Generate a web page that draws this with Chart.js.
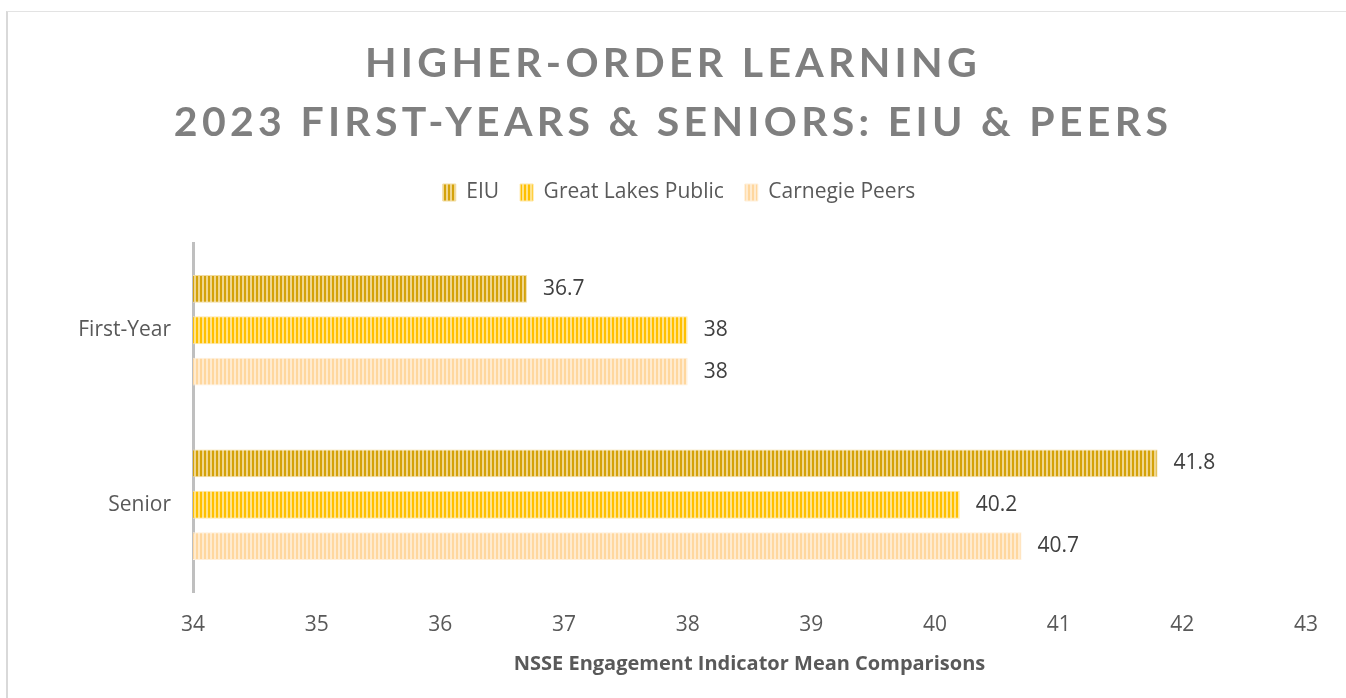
<!DOCTYPE html>
<html>
<head>
<meta charset="utf-8">
<script src="https://cdn.jsdelivr.net/npm/chart.js@4/dist/chart.umd.min.js"></script>
<style>
  html, body { margin: 0; padding: 0; background: #fff; }
  #wrap { position: relative; width: 1346px; height: 698px; overflow: hidden; }
  #frame { position: absolute; left: 6px; top: 11px; width: 1400px; height: 800px;
           border-left: 2px solid #D9D9D9; border-top: 1px solid #E3E3E3; }
  #title { position: absolute; left: 0; top: 32px; width: 1346px; text-align: center;
           font-family: Lato, sans-serif; font-weight: bold; font-size: 41px;
           letter-spacing: 4.3px; color: #7F7F7F; line-height: 59px; }
  /* canvas offset so the legend centres over the whole frame, not the plot */
  canvas { position: absolute; left: 52px; top: 0; }
</style>
</head>
<body>
<div id="wrap">
  <div id="frame"></div>
  <canvas id="chart" width="1294" height="698"></canvas>
  <div id="title">HIGHER-ORDER LEARNING<br>2023 FIRST-YEARS &amp; SENIORS: EIU &amp; PEERS</div>
</div>
<script>
// Chart data
const categories = ['First-Year', 'Senior'];
const seriesNames = ['EIU', 'Great Lakes Public', 'Carnegie Peers'];
const eiu = [36.7, 41.8];
const greatLakes = [38, 40.2];
const carnegie = [38, 40.7];
const xTicks = [34, 35, 36, 37, 38, 39, 40, 41, 42, 43];

const FONT = "'Open Sans', sans-serif";

// Vertical stripe fill, like the Excel pattern fill
function stripes(dark, light) {
    const c = document.createElement('canvas');
    c.width = 4;
    c.height = 4;
    const g = c.getContext('2d');
    g.fillStyle = light;
    g.fillRect(0, 0, 4, 4);
    g.fillStyle = dark;
    g.fillRect(0, 0, 2, 4);
    return g.createPattern(c, 'repeat');
}

const fills = [
    stripes('#D4A20A', '#F0D68E'),
    stripes('#FFC000', '#FFE38C'),
    stripes('#FFD79E', '#FFEBCF')
];
const edges = ['#F2DCA0', '#FFE7A6', '#FFEFD9'];

// Value labels at the end of each bar
const valueLabels = {
    id: 'valueLabels',
    afterDatasetsDraw(chart) {
        const ctx = chart.ctx;
        ctx.save();
        ctx.font = '21px ' + FONT;
        ctx.fillStyle = '#404040';
        ctx.textAlign = 'left';
        ctx.textBaseline = 'middle';
        chart.data.datasets.forEach((ds, i) => {
            chart.getDatasetMeta(i).data.forEach((bar, j) => {
                ctx.fillText(String(ds.data[j]), bar.x + 16, bar.y);
            });
        });
        ctx.restore();
    }
};

const ctx = document.getElementById('chart').getContext('2d');
const chart = new Chart(ctx, {
    type: 'bar',
    data: {
        labels: categories,
        datasets: [eiu, greatLakes, carnegie].map((vals, i) => ({
            label: seriesNames[i],
            data: vals,
            backgroundColor: fills[i],
            borderColor: edges[i],
            borderWidth: 1,
            categoryPercentage: 0.711,
            barPercentage: 0.675
        }))
    },
    options: {
        indexAxis: 'y',
        responsive: false,
        animation: false,
        layout: { padding: { top: 161, right: 40, bottom: 18, left: 0 } },
        plugins: {
            legend: {
                position: 'top',
                labels: {
                    font: { family: FONT, size: 21 },
                    color: '#595959',
                    boxWidth: 13,
                    boxHeight: 17,
                    padding: 21
                }
            },
            tooltip: { enabled: false }
        },
        scales: {
            x: {
                min: xTicks[0],
                max: xTicks[xTicks.length - 1],
                afterBuildTicks(scale) {
                    scale.ticks = xTicks.map(v => ({ value: v }));
                },
                grid: { display: false },
                border: { display: false },
                ticks: {
                    font: { family: FONT, size: 21 },
                    color: '#595959',
                    padding: 12
                },
                title: {
                    display: true,
                    text: 'NSSE Engagement Indicator Mean Comparisons',
                    font: { family: FONT, size: 20, weight: 'bold' },
                    color: '#595959',
                    padding: { top: 3 }
                },
                afterFit(scale) { scale.height = 88; }
            },
            // empty spacer axis between the legend and the bars
            gap: {
                type: 'linear',
                axis: 'x',
                position: 'top',
                display: true,
                ticks: { display: false },
                grid: { display: false },
                border: { display: false },
                afterFit(scale) { scale.height = 30; }
            },
            y: {
                grid: { display: false },
                border: { display: true, color: '#BFBFBF', width: 3 },
                ticks: {
                    font: { family: FONT, size: 21 },
                    color: '#595959',
                    padding: 14
                },
                afterFit(scale) { scale.width = 141; }
            }
        }
    },
    plugins: [valueLabels]
});
</script>
</body>
</html>
